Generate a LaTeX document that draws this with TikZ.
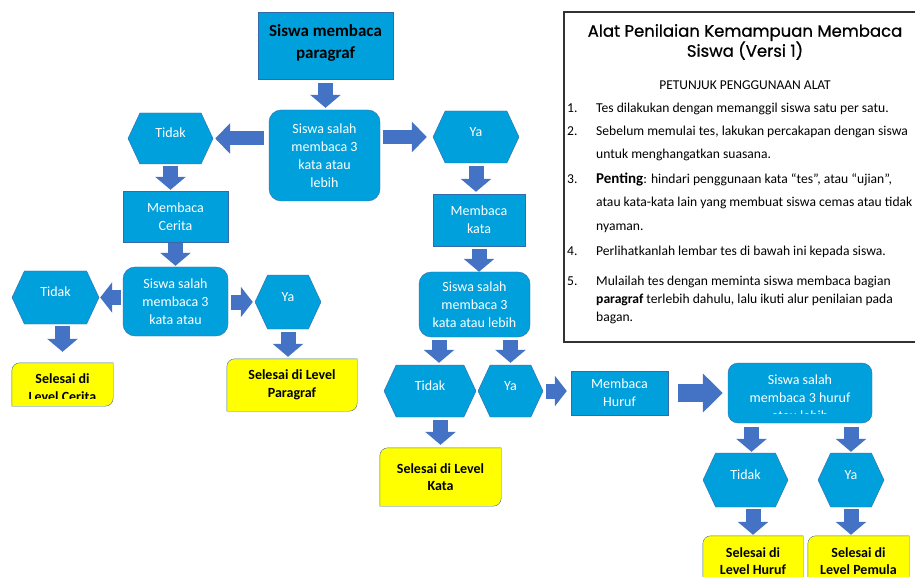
\documentclass[tikz,border=0pt]{standalone}
\usepackage{fontspec}
\setmainfont{Carlito}
\newfontfamily\titlefont[FakeBold=0.8]{Poppins}
\usetikzlibrary{shapes.symbols, arrows.meta, backgrounds}
\definecolor{boxblue}{RGB}{0,160,220}
\definecolor{lineblue}{RGB}{55,105,170}
\definecolor{arrowblue}{RGB}{68,114,196}
\definecolor{endyellow}{RGB}{255,255,0}
\definecolor{endline}{RGB}{65,113,156}
\definecolor{framegray}{RGB}{50,50,50}
\tikzset{
  stepbox/.style={draw=lineblue, fill=boxblue, text=white, align=center, inner sep=0pt,
    font=\fontsize{14}{18}\selectfont},
  askbox/.style={stepbox, rounded corners=12pt},
  hexa/.style={stepbox, signal, signal to=east and west, signal from=nowhere,
    signal pointer angle=130, text height=9.5pt, text depth=11pt},
  endbox/.style={text=black, align=center, inner sep=0pt,
    font=\bfseries\fontsize{14}{17.5}\selectfont},
  arr/.style={draw=arrowblue, line width=15pt, -{Triangle[width=30pt,length=13pt]},
    shorten <=3pt, shorten >=2pt},
  sidearr/.style={arr, line width=14pt, -{Triangle[width=30pt,length=15pt]}},
  smallarr/.style={arr, -{Triangle[width=30pt,length=12pt]}},
  bigarr/.style={arr, line width=18pt, -{Triangle[width=38pt,length=20pt]}},
  listtext/.style={anchor=base west, inner sep=0pt, font=\fontsize{13.6}{15}\selectfont},
}
% yellow box, round corners on one diagonal only
\newcommand\diagcorners[1]{%
  \filldraw[draw=endline, fill=endyellow] (#1.south west) [rounded corners=8pt] -- (#1.north west)
    [sharp corners] -- (#1.north east) [rounded corners=8pt] -- (#1.south east) [sharp corners] -- cycle;}

\begin{document}
\begin{tikzpicture}[x=1pt, y=-1pt]
\useasboundingbox (0,0) rectangle (915,577);
\clip (0,0) rectangle (915,577);

% left and middle branch
\node[stepbox, minimum width=135pt, minimum height=67pt, text=black, text depth=8pt,
  font=\bfseries\fontsize{17}{22}\selectfont] (start) at (325.5,45.5) {Siswa membaca\\paragraf};
\node[askbox, minimum width=111pt, minimum height=91pt] (cek1) at (324.5,155.5) {Siswa salah\\membaca 3\\kata atau\\lebih};
\node[hexa, minimum width=85pt, minimum height=51pt] (tdk1) at (170.5,138.5) {Tidak};
\node[hexa, minimum width=86pt, minimum height=52pt] (ya1) at (476,137) {Ya};
\node[stepbox, minimum width=105pt, minimum height=51pt] (cerita) at (175.5,216.5) {Membaca\\Cerita};
\node[stepbox, minimum width=92pt, minimum height=52pt] (mkata) at (479,220) {Membaca\\kata};
\node[askbox, minimum width=105pt, minimum height=69pt] (cek2) at (175.5,301.5) {Siswa salah\\membaca 3\\kata atau};
\node[hexa, minimum width=87pt, minimum height=53pt] (tdk2) at (55.5,297.5) {Tidak};
\node[hexa, minimum width=66pt, minimum height=54pt] (ya2) at (288,302) {Ya};
\node[endbox, minimum width=101pt, minimum height=43pt] (endcerita) at (62.5,384.5) {};
\node[endbox, minimum width=130pt, minimum height=52pt] (endpar) at (292,385) {Selesai di Level\\Paragraf};

% right branch
\node[askbox, minimum width=111pt, minimum height=65pt] (cek3) at (474.5,304.5) {Siswa salah\\membaca 3\\kata atau lebih};
\node[hexa, minimum width=92pt, minimum height=52pt] (tdk3) at (430,391) {Tidak};
\node[hexa, minimum width=65pt, minimum height=52pt] (ya3) at (510.5,391) {Ya};
\node[stepbox, minimum width=97pt, minimum height=44pt] (mhuruf) at (619.5,393) {Membaca\\Huruf};
\node[endbox, minimum width=121pt, minimum height=58pt] (endkata) at (440.5,477) {Selesai di Level\\Kata};
\node[askbox, rounded corners=10pt, minimum width=144pt, minimum height=60pt] (cek4) at (800,393) {};
\node[hexa, minimum width=85pt, minimum height=54pt] (tdk4) at (745.5,480) {Tidak};
\node[hexa, minimum width=66pt, minimum height=54pt] (ya4) at (851,480) {Ya};
\node[endbox, minimum width=100pt, minimum height=50pt] (endhuruf) at (753,561) {Selesai di\\Level Huruf};
\node[endbox, minimum width=101pt, minimum height=50pt] (endpemula) at (858.5,561) {Selesai di\\Level Pemula};

% texts cut off by their boxes
\begin{scope}
  \clip (cek4.north west) rectangle ([yshift=10pt]cek4.south east);
  \node[align=center, text=white, font=\fontsize{14}{18}\selectfont] (cek4text) at (800,398) {Siswa salah\\membaca 3 huruf\\atau lebih};
\end{scope}

\begin{scope}[on background layer]
  \diagcorners{endcerita}
  \diagcorners{endpar}
  \diagcorners{endkata}
  \diagcorners{endhuruf}
  \diagcorners{endpemula}
\end{scope}
\begin{scope}
  \clip (endcerita.north west) rectangle ([yshift=8pt]endcerita.south east);
  \node[endbox] (endceritatext) at (62.5,387.5) {Selesai di\\Level Cerita};
\end{scope}

% arrows
\draw[arr, shorten <=4pt] (start.south) -- (start.south |- cek1.north);
\draw[sidearr, shorten <=5pt] (tdk1.east -| cek1.west) -- (tdk1.east);
\draw[sidearr, shorten >=6pt] (ya1.west -| cek1.east) -- (ya1.west);
\draw[arr, shorten <=2pt, shorten >=1pt] (tdk1.south) -- (tdk1.south |- cerita.north);
\draw[arr] (ya1.south) -- (ya1.south |- mkata.north);
\draw[arr, shorten <=1pt, shorten >=1pt] (cerita.south) -- (cerita.south |- cek2.north);
\draw[arr, shorten >=0pt] (mkata.south) -- (mkata.south |- cek3.north);
\draw[smallarr, shorten <=2pt, shorten >=1pt] (tdk2.east -| cek2.west) -- (tdk2.east);
\draw[smallarr] (ya2.west -| cek2.east) -- (ya2.west);
\draw[arr, shorten <=2pt, shorten >=11pt] (endcerita.north |- tdk2.south) -- (endcerita.north);
\draw[arr] (ya2.south) -- (ya2.south |- endpar.north);
\draw[arr] ([xshift=9pt]tdk3.north |- cek3.south) -- ([xshift=9pt]tdk3.north);
\draw[arr] (ya3.north |- cek3.south) -- (ya3.north);
\draw[arr, shorten >=3pt] (endkata.north |- tdk3.south) -- (endkata.north);
\draw[smallarr, shorten >=4pt] (ya3.east) -- (ya3.east -| mhuruf.west);
\draw[bigarr, shorten <=10pt, shorten >=5pt] (mhuruf.east) -- (mhuruf.east -| cek4.west);
\draw[arr, shorten <=4pt, shorten >=1pt] ([xshift=6pt]tdk4.north |- cek4.south) -- ([xshift=6pt]tdk4.north);
\draw[arr, shorten <=4pt, shorten >=1pt] (ya4.north |- cek4.south) -- (ya4.north);
\draw[arr, shorten <=2pt, shorten >=1pt] (endhuruf.north |- tdk4.south) -- (endhuruf.north);
\draw[arr, shorten <=2pt, shorten >=1pt] (ya4.south) -- (ya4.south |- endpemula.north);

% instructions panel
\draw[framegray, line width=1.5pt] (564,12) rectangle (935,342);
\node[align=center, font=\titlefont\fontsize{16.5}{20}\selectfont] (judul) at (745,42) {Alat Penilaian Kemampuan Membaca\\Siswa (Versi 1)};
\node[font=\fontsize{13.5}{14}\selectfont] (petunjuk) at (745,85) {PETUNJUK PENGGUNAAN ALAT};
\foreach \n/\y in {1/109, 2/132, 3/180, 4/251, 5/282}
  \node[listtext] (no\n) at (567,{\y+4}) {\n.};
\foreach \y/\t [count=\i] in {109/{Tes dilakukan dengan memanggil siswa satu per satu.},
    132/{Sebelum memulai tes, lakukan percakapan dengan siswa},
    155/{untuk menghangatkan suasana.},
    180/{{\bfseries\fontsize{15}{15}\selectfont Penting}: hindari penggunaan kata “tes”, atau “ujian”,},
    203/{atau kata-kata lain yang membuat siswa cemas atau tidak},
    227/{nyaman.},
    251/{Perlihatkanlah lembar tes di bawah ini kepada siswa.},
    282/{Mulailah tes dengan meminta siswa membaca bagian},
    299/{\textbf{paragraf} terlebih dahulu, lalu ikuti alur penilaian pada},
    317/{bagan.}}
  \node[listtext] (baris\i) at (596,{\y+4}) {\t};
\end{tikzpicture}
\end{document}
